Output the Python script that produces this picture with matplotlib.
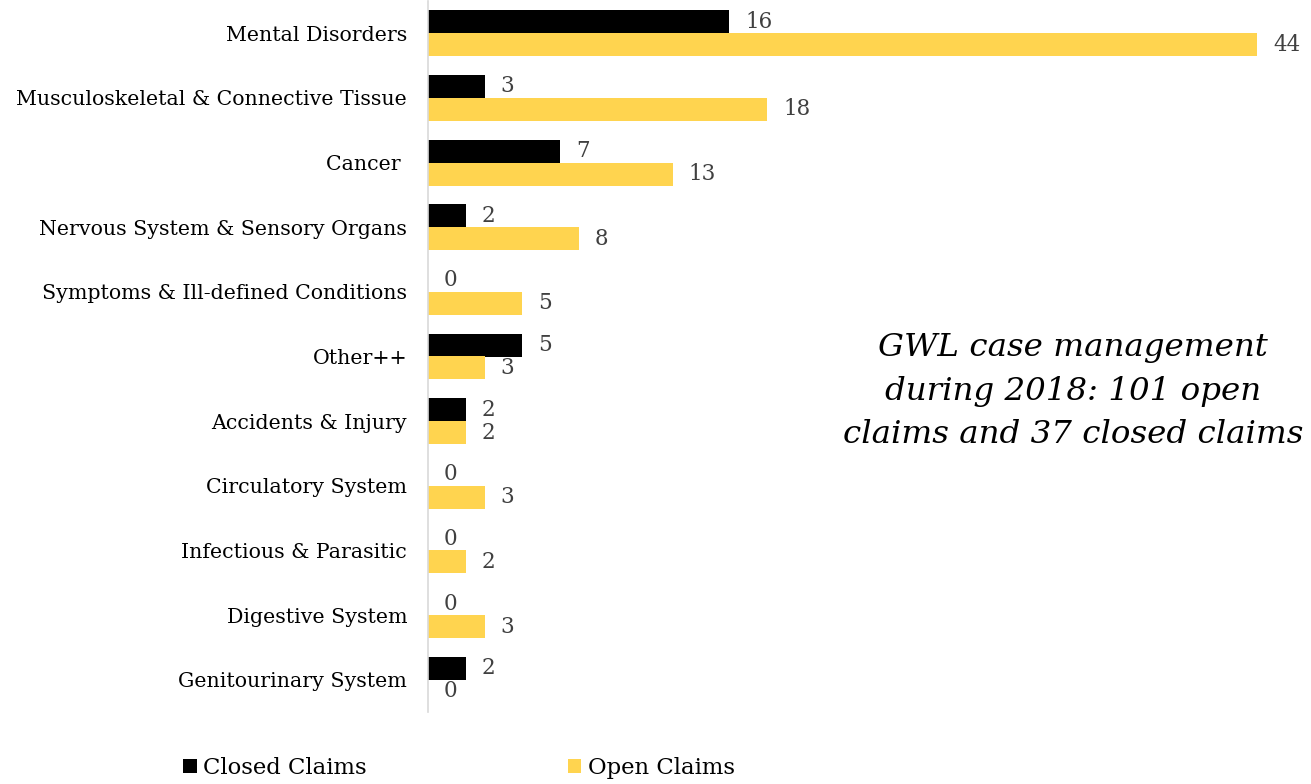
import matplotlib
matplotlib.use("Agg")
import matplotlib.pyplot as plt
import numpy as np

categories = [
    "Mental Disorders",
    "Musculoskeletal & Connective Tissue",
    "Cancer ",
    "Nervous System & Sensory Organs",
    "Symptoms & Ill-defined Conditions",
    "Other++",
    "Accidents & Injury",
    "Circulatory System",
    "Infectious & Parasitic",
    "Digestive System",
    "Genitourinary System",
]
closed_claims = [16, 3, 7, 2, 0, 5, 2, 0, 0, 0, 2]
open_claims = [44, 18, 13, 8, 5, 3, 2, 3, 2, 3, 0]

closed_color = "#000000"
open_color = "#FFD44F"
label_color = "#404040"
serif = ["DejaVu Serif"]

fig = plt.figure(figsize=(13.11, 7.84), dpi=100)
ax = fig.add_axes([428 / 1311, 1 - 712 / 784, (1300 - 428) / 1311, 711 / 784])

y = np.arange(len(categories))
h = 0.355
b1 = ax.barh(y - h / 2, closed_claims, height=h, color=closed_color, label="Closed Claims")
b2 = ax.barh(y + h / 2, open_claims, height=h, color=open_color, label="Open Claims")

for bars, vals in ((b1, closed_claims), (b2, open_claims)):
    for bar, v in zip(bars, vals):
        ax.annotate(str(v), (bar.get_width(), bar.get_y() + bar.get_height() / 2),
                    xytext=(16, 0), textcoords="offset pixels",
                    ha="left", va="center", fontsize=15.5, color=label_color,
                    family=serif)

scale_px = (1257 - 428) / 44.0
ax.set_xlim(0, (1300 - 428) / scale_px)
ax.set_ylim(len(categories) - 0.5, -0.5)
ax.set_yticks(y)
ax.set_yticklabels(categories, fontsize=14.8, family=serif, color="#000000")
ax.tick_params(axis="y", length=0, pad=15)
ax.set_xticks([])
for side in ("top", "right", "bottom"):
    ax.spines[side].set_visible(False)
ax.spines["left"].set_color("#D9D9D9")
ax.spines["left"].set_linewidth(1.2)

fig.text(1073 / 1311, 1 - 391 / 784,
         "GWL case management\nduring 2018: 101 open\nclaims and 37 closed claims",
         ha="center", va="center", fontsize=23.4, style="italic", family=serif,
         linespacing=1.52, color="#000000")

leg = fig.legend(handles=[b1, b2], loc="center", bbox_to_anchor=(459 / 1311, 1 - 768 / 784),
                 ncol=2, frameon=False, prop={"family": serif, "size": 16.4},
                 handlelength=0.6, handleheight=0.6, handletextpad=0.3, columnspacing=8.8)

fig.savefig("out.png", dpi=100)
